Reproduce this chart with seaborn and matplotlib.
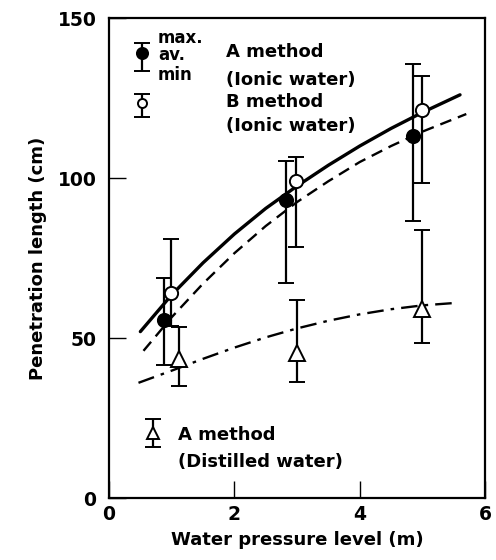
import matplotlib
matplotlib.use("Agg")

import numpy as np
import pandas as pd
import matplotlib.pyplot as plt
import seaborn as sns

# ── measured points (av. with min / max) ─────────────────────────────────────
A_ION_X   = [0.87, 2.83, 4.85]
A_ION_AV  = [55.6, 93.2, 113.0]
A_ION_MIN = [41.6, 67.3, 86.6]
A_ION_MAX = [68.8, 105.3, 135.6]

B_ION_X   = [0.99, 2.98, 5.00]
B_ION_AV  = [64.2, 99.0, 121.3]
B_ION_MIN = [53.8, 78.5, 98.3]
B_ION_MAX = [81.0, 106.6, 131.9]

A_DIS_X   = [1.12, 3.00, 5.00]
A_DIS_AV  = [43.3, 45.3, 59.0]
A_DIS_MIN = [35.1, 36.2, 48.4]
A_DIS_MAX = [53.3, 61.9, 83.8]

# ── fitted curves ───────────────────────────────────────────────────────────
SOLID_X = [0.5, 1.0, 1.5, 2.0, 2.5, 3.0, 3.5, 4.0, 4.5, 5.0, 5.6]
SOLID_Y = [52.0, 63.5, 73.5, 82.5, 90.5, 97.5, 104.0, 110.0, 115.5, 120.5, 126.0]
DASH_X  = [0.55, 1.0, 1.5, 2.0, 2.5, 3.0, 3.5, 4.0, 4.5, 5.0, 5.7]
DASH_Y  = [46.0, 56.5, 67.0, 76.5, 85.0, 92.5, 99.0, 105.0, 110.0, 114.5, 120.0]
DDOT_X  = [0.47, 1.0, 1.5, 2.0, 2.5, 3.0, 3.5, 4.0, 4.5, 5.0, 5.55]
DDOT_Y  = [36.0, 39.8, 43.5, 47.0, 50.2, 53.0, 55.4, 57.4, 59.0, 60.2, 61.0]

X_TICKS = [0, 2, 4, 6]
Y_TICKS = [0, 50, 100, 150]

sns.set_style("ticks")
plt.rcParams.update({
    "font.family": ["DejaVu Sans"],
    "font.weight": "bold",
    "text.color": "black",
    "axes.labelcolor": "black",
    "axes.edgecolor": "black",
    "xtick.color": "black",
    "ytick.color": "black",
})

fig = plt.figure(figsize=(4.96, 5.6), dpi=100)
ax = fig.add_axes([0.2198, 0.1107, 0.7582, 0.8571])

curves = pd.concat([
    pd.DataFrame({"x": SOLID_X, "y": SOLID_Y, "c": "solid"}),
    pd.DataFrame({"x": DASH_X, "y": DASH_Y, "c": "dash"}),
    pd.DataFrame({"x": DDOT_X, "y": DDOT_Y, "c": "ddot"}),
])
styles = {"solid": ("-", 2.4), "dash": ((0, (5, 3)), 1.7), "ddot": ((0, (7, 3, 1.5, 3)), 1.7)}
for key, grp in curves.groupby("c"):
    ls, lw = styles[key]
    sns.lineplot(data=grp, x="x", y="y", ax=ax, color="black", lw=lw,
                 linestyle=ls, sort=True, estimator=None, zorder=2)

ebk = dict(ecolor="black", elinewidth=1.6, capsize=5.5, capthick=1.6, ls="none",
           markeredgecolor="black", markeredgewidth=1.4, zorder=4)


def errs(av, lo, hi):
    av = np.array(av)
    return [av - np.array(lo), np.array(hi) - av]


ax.errorbar(A_ION_X, A_ION_AV, yerr=errs(A_ION_AV, A_ION_MIN, A_ION_MAX),
            fmt="o", ms=9.5, markerfacecolor="black", **ebk)
ax.errorbar(B_ION_X, B_ION_AV, yerr=errs(B_ION_AV, B_ION_MIN, B_ION_MAX),
            fmt="o", ms=9.5, markerfacecolor="white", **ebk)
ax.errorbar(A_DIS_X, A_DIS_AV, yerr=errs(A_DIS_AV, A_DIS_MIN, A_DIS_MAX),
            fmt="^", ms=11, markerfacecolor="white", **ebk)

# ── hand-drawn key ──────────────────────────────────────────────────────────
ax.errorbar([0.52], [139.0], yerr=[[5.6], [3.3]], fmt="o", ms=8,
            markerfacecolor="black", **ebk)
ax.errorbar([0.52], [123.4], yerr=[[4.4], [2.9]], fmt="o", ms=6.5,
            markerfacecolor="white", **ebk)
ax.errorbar([0.70], [20.3], yerr=[[4.4], [4.4]], fmt="^", ms=8,
            markerfacecolor="white", **ebk)

small = dict(fontsize=12, fontweight="bold", va="baseline", ha="left")
ax.text(0.78, 142.1, "max.", **small)
ax.text(0.78, 136.9, "av.", **small)
ax.text(0.78, 130.6, "min", **small)
big = dict(fontsize=13, fontweight="bold", va="baseline", ha="left")
ax.text(1.87, 137.9, "A method", **big)
ax.text(1.87, 129.1, "(Ionic water)", **big)
ax.text(1.87, 122.3, "B method", **big)
ax.text(1.87, 114.6, "(Ionic water)", **big)
ax.text(1.10, 18.1, "A method", **big)
ax.text(1.10, 9.8, "(Distilled water)", **big)

ax.set_xlim(0, 6)
ax.set_ylim(0, 150)
ax.set_xticks(X_TICKS)
ax.set_yticks(Y_TICKS)
ax.tick_params(direction="in", length=12, width=1.0, labelsize=13.5)
ax.tick_params(axis="y", pad=9)
ax.tick_params(axis="x", pad=5)
for lab in ax.get_xticklabels() + ax.get_yticklabels():
    lab.set_fontweight("bold")
for sp in ax.spines.values():
    sp.set_visible(True)
    sp.set_linewidth(1.6)

ax.set_xlabel("Water pressure level (m)", fontsize=13, fontweight="bold", labelpad=5)
ax.set_ylabel("Penetration length (cm)", fontsize=13, fontweight="bold", labelpad=8)

fig.savefig("out.png", dpi=100)
plt.close()
